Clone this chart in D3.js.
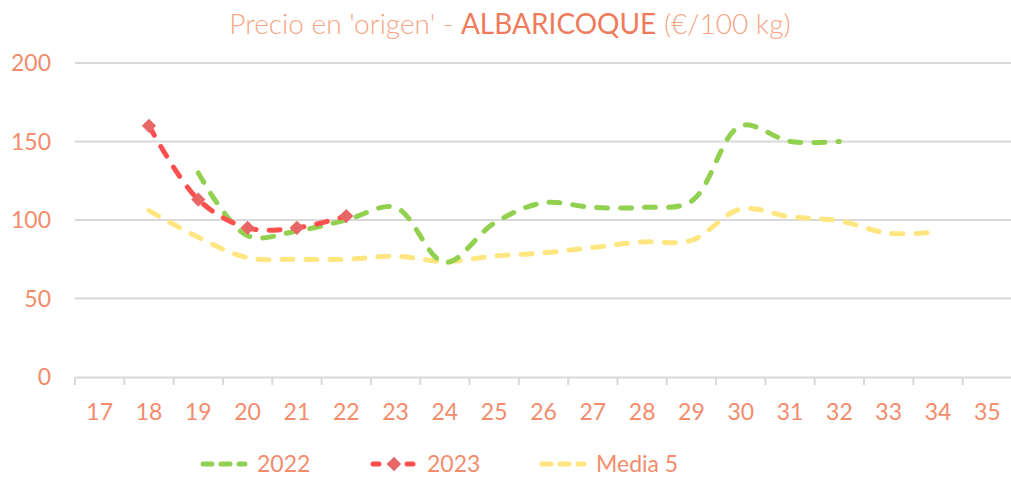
<!DOCTYPE html>
<html lang="es">
<head>
<meta charset="UTF-8">
<title>Precio en 'origen' - ALBARICOQUE</title>
<script src="https://d3js.org/d3.v7.min.js"></script>
<style>
  body { margin: 0; background: #fff; }
  svg { font-family: Lato, "Open Sans", "Liberation Sans", sans-serif; }
  .tick-label { fill: #F28C6C; font-size: 23px; }
  .grid { stroke: #d9d9d9; stroke-width: 2; }
</style>
</head>
<body>
<svg id="chart" width="1011" height="477"></svg>
<script>
// semanas
const weeks = [17, 18, 19, 20, 21, 22, 23, 24, 25, 26, 27, 28, 29, 30, 31, 32, 33, 34, 35];
const yTicks = [0, 50, 100, 150, 200];

// valores (null = sin dato)
const v2022 = [null, null, 130, 90, 93, 100, 108, 73, 98, 111, 108, 108, 112, 160, 150, 150, null, null, null];
const v2023 = [null, 160, 113, 95, 95, 102.5, null, null, null, null, null, null, null, null, null, null, null, null, null];
const media5 = [null, 106, 89, 76, 75, 75, 77, 73.5, 77, 79, 82.5, 86, 87, 107, 102, 99.5, 91.5, 92.5, null];

const series = [
  { name: "2022", values: v2022, color: "#92D050", marker: false },
  { name: "2023", values: v2023, color: "#FF5050", marker: true },
  { name: "Media 5", values: media5, color: "#FFE680", marker: false }
];

const svg = d3.select("#chart");
const plotL = 75, plotR = 1012, plotT = 63, plotB = 377;

const x = d3.scaleBand().domain(weeks).range([plotL, plotR]);
const y = d3.scaleLinear().domain([0, 200]).range([plotB, plotT]);

// titulo
const title = svg.append("text")
  .attr("x", 510).attr("y", 34)
  .attr("text-anchor", "middle")
  .attr("font-size", 28)
  .attr("font-weight", 300)
  .attr("fill", "#F5A585");
title.append("tspan").text("Precio en 'origen' - ");
title.append("tspan").attr("fill", "#F07B5C").attr("font-weight", 400).text("ALBARICOQUE");
title.append("tspan").text(" (€/100 kg)");

// rejilla
svg.selectAll(".grid")
  .data(yTicks.filter(d => d > 0))
  .enter().append("line")
  .attr("class", "grid")
  .attr("x1", plotL).attr("x2", plotR)
  .attr("y1", d => y(d)).attr("y2", d => y(d));

// eje y
svg.selectAll(".ylab")
  .data(yTicks)
  .enter().append("text")
  .attr("class", "tick-label")
  .attr("x", 51)
  .attr("y", d => y(d) + 8)
  .attr("text-anchor", "end")
  .text(d => d);

// eje x
const xAxis = d3.axisBottom(x).tickSize(0).tickPadding(0).tickFormat(d => d);
const gx = svg.append("g").attr("transform", `translate(0,${plotB})`).call(xAxis);
gx.attr("font-family", null).attr("font-size", null);
gx.select(".domain").attr("stroke", "#d9d9d9").attr("stroke-width", 2);
gx.selectAll(".tick text")
  .attr("class", "tick-label")
  .attr("y", 43)
  .attr("dy", null)
  .attr("fill", null);
const edges = weeks.map(d => x(d)).concat([x(weeks[weeks.length - 1]) + x.bandwidth()]);
gx.selectAll(".edge")
  .data(edges)
  .enter().append("line")
  .attr("x1", d => d).attr("x2", d => d)
  .attr("y1", 0).attr("y2", 8)
  .attr("stroke", "#d9d9d9").attr("stroke-width", 2);

// lineas
const cx = d => x(d) + x.bandwidth() / 2;
const line = d3.line()
  .defined(d => d.v !== null)
  .x(d => cx(d.w))
  .y(d => y(d.v))
  .curve(d3.curveCatmullRom.alpha(0.5));

const drawOrder = [series[2], series[0], series[1]];
drawOrder.forEach(s => {
  const pts = weeks.map((w, i) => ({ w: w, v: s.values[i] }));
  svg.append("path")
    .datum(pts)
    .attr("d", line)
    .attr("fill", "none")
    .attr("stroke", s.color)
    .attr("stroke-width", 5)
    .attr("stroke-linecap", "round")
    .attr("stroke-dasharray", "11,13");
  if (s.marker) {
    svg.selectAll(null)
      .data(pts.filter(d => d.v !== null))
      .enter().append("path")
      .attr("d", d3.symbol().type(d3.symbolDiamond2).size(130))
      .attr("transform", d => `translate(${cx(d.w)},${y(d.v)})`)
      .attr("fill", "#E86666");
  }
});

// leyenda
const legendItems = [
  { s: series[0], x: 203 },
  { s: series[1], x: 373 },
  { s: series[2], x: 542 }
];
legendItems.forEach(it => {
  const g = svg.append("g").attr("transform", `translate(${it.x},464)`);
  g.append("line")
    .attr("x1", 0).attr("x2", 42).attr("y1", 0).attr("y2", 0)
    .attr("stroke", it.s.color).attr("stroke-width", 5)
    .attr("stroke-linecap", "round")
    .attr("stroke-dasharray", it.s.marker ? "6,11" : "9,9");
  if (it.s.marker) {
    g.append("path")
      .attr("d", d3.symbol().type(d3.symbolDiamond2).size(130))
      .attr("transform", "translate(21,0)")
      .attr("fill", "#E86666");
  }
  g.append("text")
    .attr("class", "tick-label")
    .attr("x", 54).attr("y", 8)
    .attr("font-size", 24)
    .text(it.s.name);
});
</script>
</body>
</html>
